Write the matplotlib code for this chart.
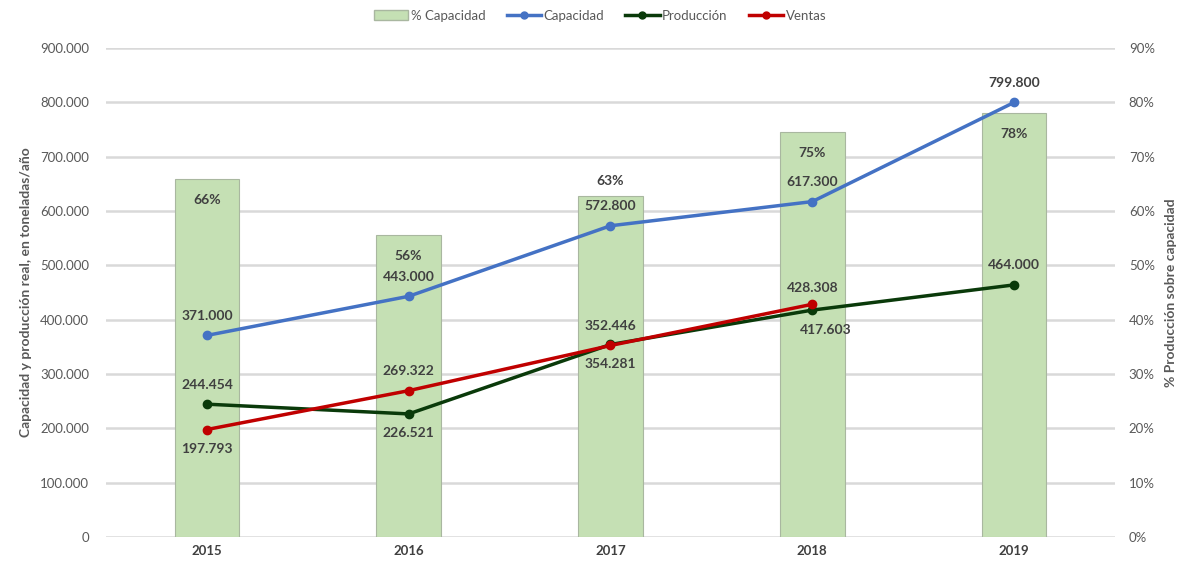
import matplotlib
matplotlib.use("Agg")
import matplotlib.pyplot as plt
from matplotlib.ticker import FuncFormatter, MultipleLocator
from matplotlib.lines import Line2D
from matplotlib.patches import Patch

years = ["2015", "2016", "2017", "2018", "2019"]
pct_capacidad = [0.659, 0.555, 0.628, 0.746, 0.78]
pct_labels = ["66%", "56%", "63%", "75%", "78%"]
capacidad = [371000, 443000, 572800, 617300, 799800]
produccion = [244454, 226521, 354281, 417603, 464000]
ventas = [197793, 269322, 352446, 428308]

plt.rcParams['font.family'] = ['Lato', 'DejaVu Sans']

TXT = "#404040"
TICK = "#595959"
C_BAR = "#C5E0B4"
C_BAR_EDGE = "#A9B7A0"
C_CAP = "#4472C4"
C_PROD = "#0A3A0A"
C_VEN = "#C00000"

def fmt_thousands(v):
    s = f"{int(round(v)):,}".replace(",", ".")
    return s

fig = plt.figure(figsize=(11.79, 5.62), dpi=100)
ax = fig.add_axes([0.0899, 0.0445, 0.8558, 0.8701])
ax2 = ax.twinx()

x = list(range(len(years)))

ax2.bar(x, pct_capacidad, width=0.32, color=C_BAR, edgecolor=C_BAR_EDGE, linewidth=0.8, zorder=1)
ax2.set_ylim(0, 0.9)
ax2.yaxis.set_major_locator(MultipleLocator(0.1))
ax2.yaxis.set_major_formatter(FuncFormatter(lambda v, p: f"{int(round(v*100))}%"))
ax2.set_ylabel("% Producción sobre capacidad", fontsize=10, fontweight="bold", color=TICK, labelpad=7)

ax.set_zorder(ax2.get_zorder() + 1)
ax.patch.set_visible(False)
ax2.patch.set_visible(True)
ax2.patch.set_facecolor("white")

ax2.set_axisbelow(True)
ax2.yaxis.grid(True, color="#D9D9D9", linewidth=1.8, zorder=0)

ax.set_ylim(0, 900000)
ax.yaxis.set_major_locator(MultipleLocator(100000))
ax.yaxis.set_major_formatter(FuncFormatter(lambda v, p: fmt_thousands(v)))
ax.set_xlim(-0.5, len(years) - 0.5)
ax.set_xticks(x)
ax.set_xticklabels(years, fontweight="bold")
ax.set_ylabel("Capacidad y producción real, en toneladas/año", fontsize=10, fontweight="bold", color=TICK, labelpad=6)

for a in (ax, ax2):
    for s in a.spines.values():
        s.set_visible(False)
    a.tick_params(length=0, labelsize=9.5, labelcolor=TICK)
ax.tick_params(axis="y", pad=12)
ax2.tick_params(axis="y", pad=10)
ax.tick_params(axis="x", pad=6, labelcolor=TXT)

ax.plot(x, capacidad, color=C_CAP, lw=2.5, marker="o", ms=6, zorder=5)
ax.plot(x, produccion, color=C_PROD, lw=2.5, marker="o", ms=6, zorder=5)
ax.plot(x[:len(ventas)], ventas, color=C_VEN, lw=2.5, marker="o", ms=6, zorder=6)

lbl = dict(ha="center", fontsize=10, fontweight="bold", color=TXT, zorder=10)

bar_off = [-15, -15, 11, -15, -15]
for i, (v, t) in enumerate(zip(pct_capacidad, pct_labels)):
    ax2.annotate(t, (i, v), xytext=(0, bar_off[i]), textcoords="offset points",
                 va="center", **lbl)

for i, v in enumerate(capacidad):
    ax.annotate(fmt_thousands(v), (i, v), xytext=(0, 14), textcoords="offset points", va="center", **lbl)

prod_off = [(0, 14), (0, -14), (0, -14), (10, -14), (0, 14)]
for i, v in enumerate(produccion):
    ax.annotate(fmt_thousands(v), (i, v), xytext=prod_off[i], textcoords="offset points", va="center", **lbl)

ven_off = [(0, -14), (0, 14), (0, 14), (0, 12)]
for i, v in enumerate(ventas):
    ax.annotate(fmt_thousands(v), (i, v), xytext=ven_off[i], textcoords="offset points", va="center", **lbl)

handles = [
    Patch(facecolor=C_BAR, edgecolor=C_BAR_EDGE, label="% Capacidad"),
    Line2D([], [], color=C_CAP, lw=2.5, marker="o", ms=5, label="Capacidad"),
    Line2D([], [], color=C_PROD, lw=2.5, marker="o", ms=5, label="Producción"),
    Line2D([], [], color=C_VEN, lw=2.5, marker="o", ms=5, label="Ventas"),
]
leg = fig.legend(handles=handles, loc="center", bbox_to_anchor=(0.509, 0.972), ncol=4,
                 frameon=False, fontsize=9.5, handlelength=2.6, handletextpad=0.2,
                 columnspacing=1.6)
for t in leg.get_texts():
    t.set_color(TICK)

fig.savefig("out.png", dpi=100)
